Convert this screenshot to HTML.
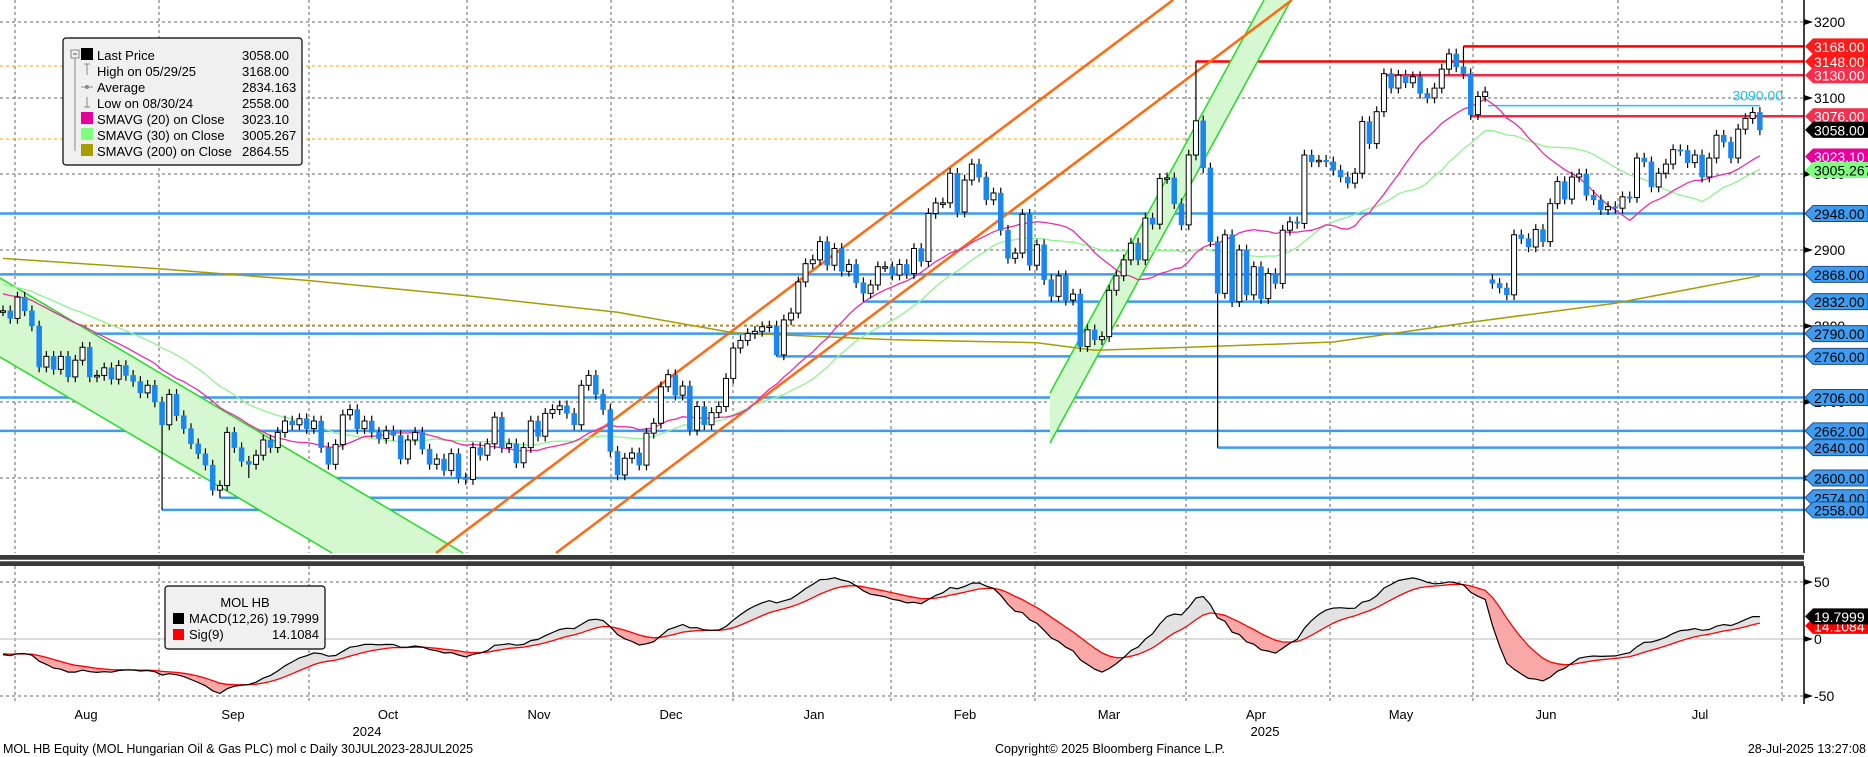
<!DOCTYPE html>
<html><head><meta charset="utf-8"><style>
html,body{margin:0;padding:0;background:#fff;}
svg{display:block;font-family:"Liberation Sans","DejaVu Sans",sans-serif;}
</style></head><body>
<svg id="chart" width="1868" height="757" viewBox="0 0 1868 757">
<g id="grid"></g>
<g id="levels"></g>
<g id="channels"></g>
<g id="mas"></g>
<g id="candles"></g>
<g id="macd"></g>
<g id="axis"></g>
<g id="xaxis"></g>
<g id="legend">
 <rect x="63" y="38" width="239" height="127" rx="3" fill="#f0f0f0" stroke="#000" stroke-width="1.2"/>
 <line x1="75" y1="58" x2="75" y2="151" stroke="#888"/>
 <rect x="71" y="50" width="8" height="8" fill="#f0f0f0" stroke="#888"/>
 <line x1="73" y1="54" x2="77" y2="54" stroke="#555"/>
 <rect x="81" y="48" width="12" height="12" fill="#000"/>
 <rect x="81" y="112" width="12" height="12" fill="#e8009a"/>
 <rect x="81" y="128" width="12" height="12" fill="#7fff7f"/>
 <rect x="81" y="144" width="12" height="12" fill="#a89c00"/>
 <line x1="84" y1="64" x2="90" y2="64" stroke="#888"/><line x1="87" y1="64" x2="87" y2="75" stroke="#888"/>
 <line x1="81" y1="87" x2="93" y2="87" stroke="#888"/><circle cx="87" cy="87" r="2" fill="#888"/>
 <line x1="87" y1="97" x2="87" y2="107" stroke="#888"/><line x1="84" y1="107" x2="90" y2="107" stroke="#888"/>
 <g font-size="13" fill="#000">
  <text x="97" y="60">Last Price</text><text x="242" y="60">3058.00</text>
  <text x="97" y="76">High on 05/29/25</text><text x="242" y="76">3168.00</text>
  <text x="97" y="92">Average</text><text x="242" y="92">2834.163</text>
  <text x="97" y="108">Low on 08/30/24</text><text x="242" y="108">2558.00</text>
  <text x="97" y="124">SMAVG (20)  on Close</text><text x="242" y="124">3023.10</text>
  <text x="97" y="140">SMAVG (30)  on Close</text><text x="242" y="140">3005.267</text>
  <text x="97" y="156">SMAVG (200)  on Close</text><text x="242" y="156">2864.55</text>
 </g>
</g>
<g id="macd-legend">
 <rect x="165" y="586" width="160" height="63" rx="3" fill="#f0f0f0" stroke="#000" stroke-width="1.2"/>
 <text x="245" y="607" font-size="13" text-anchor="middle">MOL HB</text>
 <rect x="173" y="613" width="11" height="11" fill="#000"/>
 <rect x="173" y="629" width="11" height="11" fill="#ff0000"/>
 <text x="189" y="623" font-size="13">MACD(12,26)</text><text x="272" y="623" font-size="13">19.7999</text>
 <text x="189" y="639" font-size="13">Sig(9)</text><text x="272" y="639" font-size="13">14.1084</text>
</g>
<g font-size="12.5" fill="#000">
 <text x="3" y="753">MOL HB Equity (MOL Hungarian Oil &amp; Gas PLC) mol c  Daily 30JUL2023-28JUL2025</text>
 <text x="995" y="753">Copyright© 2025 Bloomberg Finance L.P.</text>
 <text x="1866" y="753" text-anchor="end">28-Jul-2025 13:27:08</text>
</g>
</svg>
<script>
// ---- data ----
const priorCloses = [2895,2890,2900,2885,2880,2888,2875,2870,2878,2865,2872,2860,2868,2855,2862,2850,2858,2846,2852,2840,2848,2836,2842,2830,2838,2826,2834,2828,2832,2825];
const closes = [2820,2810,2838,2820,2800,2746,2760,2743,2760,2733,
2755,2772,2733,2735,2745,2730,2748,2735,2727,2712,
2722,2700,2670,2710,2682,2665,2645,2632,2617,2584,
2590,2660,2640,2622,2618,2630,2650,2640,2660,2675,
2670,2678,2665,2675,2640,2618,2644,2683,2690,2665,
2675,2660,2652,2662,2656,2625,2650,2660,2638,2618,
2625,2610,2632,2600,2598,2640,2630,2645,2680,2640,
2645,2620,2640,2675,2655,2685,2690,2695,2685,2670,
2722,2735,2710,
2690,2635,2604,2626,2633,2617,2659,2672,2720,2736,
2709,2721,2663,2694,2670,2686,2694,2731,2771,2781,
2790,2793,2799,2800,2762,2808,2817,2858,2882,2887,
2911,2880,2902,2872,2881,2857,2843,2854,2878,2878,
2867,2881,2869,2902,2885,2948,2962,2962,3001,2950,
2992,3013,2996,2966,2975,2926,2889,2896,2947,2880,
2907,2861,2839,2866,2834,2842,2773,2795,2782,2786,
2847,2866,2887,2909,2887,2942,2934,2994,2995,2961,
2933,3025,3070,3008,2911,
2843,2920,2832,2900,2841,2878,2836,2869,2856,2926,
2937,2935,3025,3016,3018,3016,3005,2996,2988,3001,
3069,3040,3082,3132,3113,3130,3120,3128,3106,3100,
3113,3138,3158,3141,3132,3078,3102,3108,2856,2850,
2841,2920,2915,2904,2927,2911,2961,2990,2967,2996,
3000,2972,2966,2953,2957,2955,2970,2969,3021,3016,
2983,3001,3013,3032,3031,3015,3025,2996,3021,3051,
3042,3021,3059,3073,3081,3058];
const openOverrideIdx = [206];
const openOverrideVal = [2861];
const highIdx = [165, 202];
const highVal = [3148, 3168];
const lowIdx = [22, 30, 34, 107, 119, 168];
const lowVal = [2558, 2574, 2600, 2760, 2832, 2640];
const sma200Idx = [0, 22, 42, 64, 85, 101, 123, 143, 151, 164, 184, 203, 223, 243];
const sma200Val = [2889, 2875, 2860, 2840, 2818, 2791, 2782, 2778, 2768, 2772, 2779, 2805, 2830, 2866];
const blueLevels = [2948, 2868, 2832, 2790, 2760, 2706, 2662, 2640, 2600, 2574, 2558];
const blueLevelStartIdx = [-1, -1, 119, -1, 107, -1, -1, 168, 34, 30, 22];
const redLevels = [3168, 3148, 3130, 3076];
const redLevelStartIdx = [202, 165, 191, 203];
const priceTicks = [3200, 3100, 3000, 2900, 2800, 2700, 2600];
const macdTicks = [50, 0, -50];
const months = ["Aug","Sep","Oct","Nov","Dec","Jan","Feb","Mar","Apr","May","Jun","Jul"];
const monthX = [86,233,388,539,671,814,965,1109,1256,1401,1546,1700];
const years = ["2024","2025"];
const yearX = [367,1265];
const gridX = [15,159,309,467,611,733,891,1035,1186,1330,1473,1618,1782];

// ---- scales ----
const NS = "http://www.w3.org/2000/svg";
const AX = 1804, TOP = 0, BOT = 553;
const xOf = i => 3 + i * 7.23;
const yP = p => 22 + (3200 - p) * 0.76;
const yM = v => 639 - v * 1.14;
function mk(tag, attrs, parent) {
  const e = document.createElementNS(NS, tag);
  for (const k in attrs) e.setAttribute(k, attrs[k]);
  parent.appendChild(e); return e;
}
const G = id => document.getElementById(id);

// grid
const grid = G("grid");
for (const t of priceTicks) {
  const l = mk("line", {x1:0, x2:AX, y1:yP(t), y2:yP(t), stroke:"#666", "stroke-dasharray":"3,3"}, grid);
  
  
}
for (const gx of gridX) {
  const l = mk("line", {x1:gx, x2:gx, y1:0, y2:BOT, stroke:"#666", "stroke-dasharray":"3,3"}, grid);
  
  
  const l2 = mk("line", {x1:gx, x2:gx, y1:566, y2:704, stroke:"#666", "stroke-dasharray":"3,3"}, grid);
  
  
}
for (const t of [50, -50]) {
  const l = mk("line", {x1:0, x2:AX, y1:yM(t), y2:yM(t), stroke:"#666", "stroke-dasharray":"3,3"}, grid);
  
  
}
const zl = mk("line", {x1:0, x2:AX, y1:yM(0), y2:yM(0), stroke:"#bbb"}, grid);


for (const oy of [66, 139, 325]) {
  const l = mk("line", {x1:0, x2:1200, y1:oy, y2:oy, stroke:"#ffa500", "stroke-dasharray":"3,3"}, grid);
  
  
}

// channels
const ch = G("channels");
const gch1 = mk("polygon", {points:"0,278 463,553 332,553 0,357", fill:"#d6f8d0"}, ch);


for (const p of [[0,278,463,553],[0,357,332,553]]) {
  const l = mk("line", {x1:p[0], y1:p[1], x2:p[2], y2:p[3], stroke:"#22dd22", "stroke-width":1.5}, ch);
  
  
}
const gch2 = mk("polygon", {points:"1050,393 1264,0 1291,0 1050,443", fill:"#d6f8d0"}, ch);


for (const p of [[1050,393,1264,0],[1050,443,1291,0]]) {
  const l = mk("line", {x1:p[0], y1:p[1], x2:p[2], y2:p[3], stroke:"#22dd22", "stroke-width":1.5}, ch);
  
  
}
for (const p of [[436,553,1173,0],[556,553,1292,0]]) {
  const l = mk("line", {x1:p[0], y1:p[1], x2:p[2], y2:p[3], stroke:"#ff6a10", "stroke-width":2.5}, ch);
  
  
}

// levels
const lv = G("levels");
blueLevels.forEach((p, k) => {
  const si = blueLevelStartIdx[k];
  const x0 = si < 0 ? 0 : xOf(si);
  const l = mk("line", {x1:x0, x2:AX, y1:yP(p), y2:yP(p), stroke:"#3d9bf0", "stroke-width":2.5}, lv);
  
  
});
redLevels.forEach((p, k) => {
  const x0 = xOf(redLevelStartIdx[k]);
  const l = mk("line", {x1:x0, x2:AX, y1:yP(p), y2:yP(p), stroke:k<2?"#ff0000":"#f02848", "stroke-width":2.5}, lv);
  
  
});
const cy = mk("line", {x1:1488, x2:1760, y1:yP(3090), y2:yP(3090), stroke:"#19c3f5", "stroke-width":1.5}, lv);


const cyt = mk("text", {x:1783, y:yP(3090)-5, fill:"#19c3f5", "font-size":14, "text-anchor":"end"}, lv);
cyt.textContent = "3090.00";



// moving averages
const all = priorCloses.concat(closes);
const P = priorCloses.length;
function sma(n) {
  return closes.map((c, i) => {
    const j = i + P; let s = 0;
    for (let k = j - n + 1; k <= j; k++) s += all[k];
    return s / n;
  });
}
const ma = G("mas");
function poly(vals, idxs, yf, color, w, parent, name) {
  const pts = vals.map((v, k) => xOf(idxs ? idxs[k] : k).toFixed(1) + "," + yf(v).toFixed(1)).join(" ");
  const e = mk("polyline", {points:pts, fill:"none", stroke:color, "stroke-width":w}, parent);
  
  
  return e;
}
poly(sma200Val, sma200Idx, yP, "#a89c00", 1.5, ma, "sma-200-line");
poly(sma(30), null, yP, "#8ef58e", 1.3, ma, "sma-30-line");
poly(sma(20), null, yP, "#ee2aa8", 1.3, ma, "sma-20-line");

// candles
const cg = G("candles");
closes.forEach((c, i) => {
  let o = i === 0 ? c : closes[i - 1];
  const oi = openOverrideIdx.indexOf(i); if (oi >= 0) o = openOverrideVal[oi];
  let h = Math.max(o, c) + 7, l = Math.min(o, c) - 7;
  const hi = highIdx.indexOf(i); if (hi >= 0) h = highVal[hi];
  const li = lowIdx.indexOf(i); if (li >= 0) l = lowVal[li];
  const x = xOf(i), up = c >= o;
  const w = mk("line", {x1:x, x2:x, y1:yP(h), y2:yP(l), stroke:"#000", "stroke-width":1.2}, cg);
  
  
  const yt = yP(Math.max(o, c)), yb = yP(Math.min(o, c));
  const b = mk("rect", {x:x-2.5, y:yt, width:5, height:Math.max(1.5, yb - yt),
    fill:up?"#fff":"#1a87f0", stroke:up?"#000":"#1a87f0", "stroke-width":up?1:0.5}, cg);
  
  
});

// separator
const sepG = G("macd");
const sep = mk("rect", {x:0, y:555, width:1868, height:11, fill:"#3a3a3a"}, sepG);


const sepl = mk("line", {x1:0, x2:1868, y1:560.5, y2:560.5, stroke:"#fff", "stroke-width":1.5}, sepG);



// MACD
function ema(arr, n) { const k = 2/(n+1); const out = []; let e = arr[0];
  arr.forEach(v => { e = v*k + e*(1-k); out.push(e); }); return out; }
const e12 = ema(all, 12), e26 = ema(all, 26);
const macdAll = all.map((v, i) => e12[i] - e26[i]);
const sigAll = ema(macdAll, 9);
const macd = macdAll.slice(P), sig = sigAll.slice(P);
for (let i = 0; i < macd.length - 1; i++) {
  const above = (macd[i] + macd[i+1]) >= (sig[i] + sig[i+1]);
  const pts = [[xOf(i), yM(macd[i])],[xOf(i+1), yM(macd[i+1])],[xOf(i+1), yM(sig[i+1])],[xOf(i), yM(sig[i])]]
    .map(p => p[0].toFixed(1)+","+p[1].toFixed(1)).join(" ");
  const f = mk("polygon", {points:pts, fill:above?"#e2e2e2":"#f9a8a8", stroke:above?"#e2e2e2":"#f9a8a8", "stroke-width":0.4}, sepG);
  
  
}
poly(sig, null, yM, "#ff0000", 1.3, sepG, "signal-line");
poly(macd, null, yM, "#000", 1.2, sepG, "macd-line");

// right axis
const ax = G("axis");
const wb = mk("rect", {x:AX, y:0, width:64, height:757, fill:"#fff"}, ax);


for (const seg of [[0,BOT],[566,704]]) {
  const l = mk("line", {x1:AX, x2:AX, y1:seg[0], y2:seg[1], stroke:"#000", "stroke-width":1.5}, ax);
  
  
}
function tick(y, label, name) {
  const t = mk("polygon", {points:`${AX},${y-3} ${AX+9},${y} ${AX},${y+3}`, fill:"#000"}, ax);
  
  
  const tx = mk("text", {x:AX+10, y:y+5, "font-size":14, fill:"#000"}, ax);
  tx.textContent = label;
  
  
}
priceTicks.forEach(t => tick(yP(t), String(t), 'price-tick'));
macdTicks.forEach(t => tick(yM(t), String(t), 'macd-tick'));
function box(y, label, fill, tc, name, stroke) {
  const g = mk("g", {}, ax);
  
  
  mk("polygon", {points:`${AX+1},${y} ${AX+9},${y-8} 1868,${y-8} 1868,${y+8} ${AX+9},${y+8}`, fill:fill, stroke:stroke||"none"}, g);
  const t = mk("text", {x:AX+10, y:y+5.5, "font-size":14, fill:tc}, g);
  t.textContent = label;
}
blueLevels.forEach(p => box(yP(p), p.toFixed(2), "#3d9bf0", "#000", "level-label", "#1e4f88"));
box(yP(3168), "3168.00", "#ff1a1a", "#fff", "level-label");
box(yP(3148), "3148.00", "#ff1a1a", "#fff", "level-label");
box(yP(3130), "3130.00", "#f5304e", "#fff", "level-label");
box(yP(3076), "3076.00", "#f5304e", "#fff", "level-label");
box(yP(closes[closes.length-1]), "3058.00", "#000", "#fff", "last-price-label");
box(yP(3023.10), "3023.10", "#e8009a", "#fff", "sma20-label");
box(yP(3005.267), "3005.267", "#7fff7f", "#000", "sma30-label");
box(yM(14.1084)+3, "14.1084", "#ff0000", "#fff", "signal-value-label");
box(yM(19.7999), "19.7999", "#000", "#fff", "macd-value-label");

// x axis
const xa = G("xaxis");
months.forEach((m, k) => {
  const t = mk("text", {x:monthX[k], y:719, "font-size":13, "text-anchor":"middle"}, xa);
  t.textContent = m;
  
  
});
years.forEach((y, k) => {
  const t = mk("text", {x:yearX[k], y:736, "font-size":13, "text-anchor":"middle"}, xa);
  t.textContent = y;
  
  
});
// keep legends on top
const svg = G("chart");
svg.appendChild(G("legend")); svg.appendChild(G("macd-legend"));
</script>
</body></html>
